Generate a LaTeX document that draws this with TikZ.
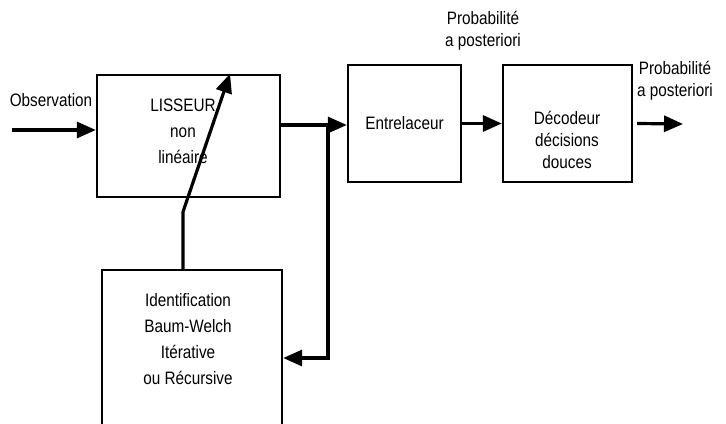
\documentclass[tikz,border=0pt]{standalone}
\usepackage{fontspec}
\setmainfont{Liberation Sans}[FakeStretch=0.85]
\usetikzlibrary{arrows.meta}

\tikzset{
  bloc/.style={draw, line width=1.2pt, inner sep=0pt},
  fleche/.style={line width=1.6pt, -{Triangle[length=9.5pt,width=8pt]}},
  trait/.style={line width=1.6pt},
  txt/.style={align=center, font=\fontsize{9}{13}\selectfont, inner sep=0pt},
  txtserre/.style={txt, font=\fontsize{9}{11}\selectfont},
}

\begin{document}
\begin{tikzpicture}[x=0.5pt,y=0.5pt]
\useasboundingbox (0,0) rectangle (726,423);

% Blocs
\node[bloc, minimum width=91.5pt, minimum height=61pt] (lisseur) at (188.5,287) {};
\node[bloc, minimum width=56.5pt, minimum height=58.5pt, txt] (entrelaceur) at (404.5,299.5) {Entrelaceur};
\node[bloc, minimum width=64.5pt, minimum height=58.5pt] (decodeur) at (567.5,299.5) {};
\node[bloc, minimum width=90pt, minimum height=100pt] (ident) at (192,53) {};

% Textes des blocs
\node[txt] (lisseurtxt) at (183,292) {LISSEUR\\non\\linéaire};
\node[txtserre] (decodeurtxt) at (567,283) {Décodeur\\décisions\\douces};
\node[txt] (identtxt) at (188,84) {Identification\\Baum-Welch\\Itérative\\ou Récursive};

% Etiquettes
\node[txt] (obs) at (51,323) {Observation};
\node[txtserre] (probaA) at (483,392) {Probabilité\\a posteriori};
\node[txtserre] (probaB) at (675,342) {Probabilité\\a posteriori};

% Points de passage
\coordinate (entree) at (12,293);
\coordinate (j1) at (328,298);
\coordinate (j2) at (328,65);
\coordinate (sortie) at (683,299);
\coordinate (k0) at ([xshift=-4.5pt]ident.north);
\coordinate (k2) at ([xshift=20.75pt]lisseur.north);

% Liaisons
\draw[fleche] (entree) -- (entree -| lisseur.west);
\draw[trait] (lisseur.east |- j1) -- (j1);
\draw[fleche] (j1) -- (entrelaceur.west |- j1);
\draw[fleche] (j1) |- (ident.east |- j2);
\draw[fleche] (entrelaceur.east) -- (decodeur.west);
\draw[fleche] ([xshift=2pt]decodeur.east) -- (sortie);
\draw[fleche] (k0) -- ++(0,57) -- (k2);

\end{tikzpicture}
\end{document}
